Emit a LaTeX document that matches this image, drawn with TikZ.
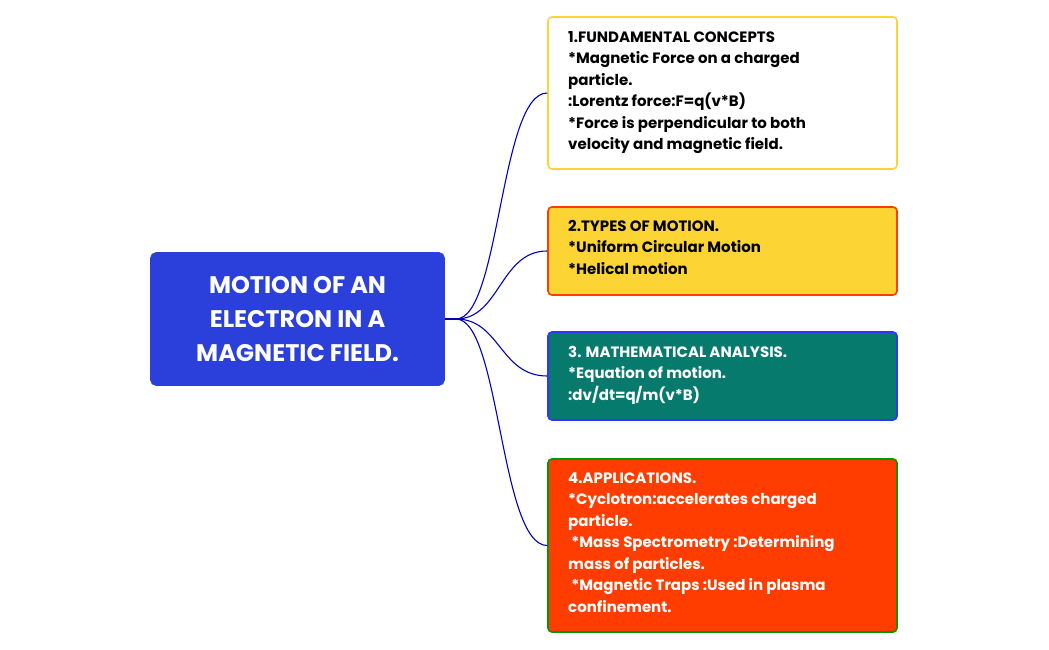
\documentclass[tikz,border=0pt]{standalone}
\usepackage{fontspec}
\setmainfont{Poppins}
\begin{document}
\begin{tikzpicture}[x=1pt,y=-1pt,
 box/.style={rounded corners=4pt,line width=1.6pt},
 txt/.style={anchor=north west,align=left,font=\fontsize{15}{21.5}\selectfont\bfseries,inner sep=0pt},
 link/.style={draw=blue!75!black,line width=1.1pt}]
\useasboundingbox (0,0) rectangle (1049,650);
\definecolor{cblue}{HTML}{2B3FDB}
\definecolor{cyel}{HTML}{FCD535}
\definecolor{cteal}{HTML}{077A6E}
\definecolor{cred}{HTML}{FF3D00}
\node[box,fill=cblue,draw=cblue,minimum width=293pt,minimum height=132pt,rounded corners=5pt] (c) at (297.5,319) {};
\node[text=white,align=center,font=\fontsize{24}{34}\selectfont\bfseries] (ct) at (c) {MOTION OF AN\\ELECTRON IN A\\MAGNETIC FIELD.};
\coordinate (hub) at (456,319);
\draw[link] (c.east) -- (hub);
\node[box,draw=cyel,fill=white,minimum width=349pt,minimum height=152pt] (b1) at (722.5,93) {};
\node[box,draw=cred,fill=cyel,minimum width=349pt,minimum height=88pt] (b2) at (722.5,251) {};
\node[box,draw=blue!80,fill=cteal,minimum width=349pt,minimum height=88pt] (b3) at (722.5,376) {};
\node[box,draw=green!60!black,fill=cred,minimum width=349pt,minimum height=173pt] (b4) at (722.5,545.5) {};
\foreach \b in {b1,b2,b3,b4} \draw[link] (hub) .. controls (500,319) and (500,0 |- \b.west) .. (\b.west);
\node[txt] (t1) at (568,31) {1.FUNDAMENTAL CONCEPTS\\*Magnetic Force on a charged\\particle.\\:Lorentz force:F=q(v*B)\\*Force is perpendicular to both\\velocity and magnetic field.};
\node[txt] (t2) at (568,220) {2.TYPES OF MOTION.\\*Uniform Circular Motion\\*Helical motion};
\node[txt,text=white] (t3) at (568,346) {3. MATHEMATICAL ANALYSIS.\\*Equation of motion.\\:dv/dt=q/m(v*B)};
\node[txt,text=white] (t4) at (568,472) {4.APPLICATIONS.\\*Cyclotron:accelerates charged\\particle.\\\ *Mass Spectrometry :Determining\\mass of particles.\\\ *Magnetic Traps :Used in plasma\\confinement.};
\end{tikzpicture}
\end{document}
